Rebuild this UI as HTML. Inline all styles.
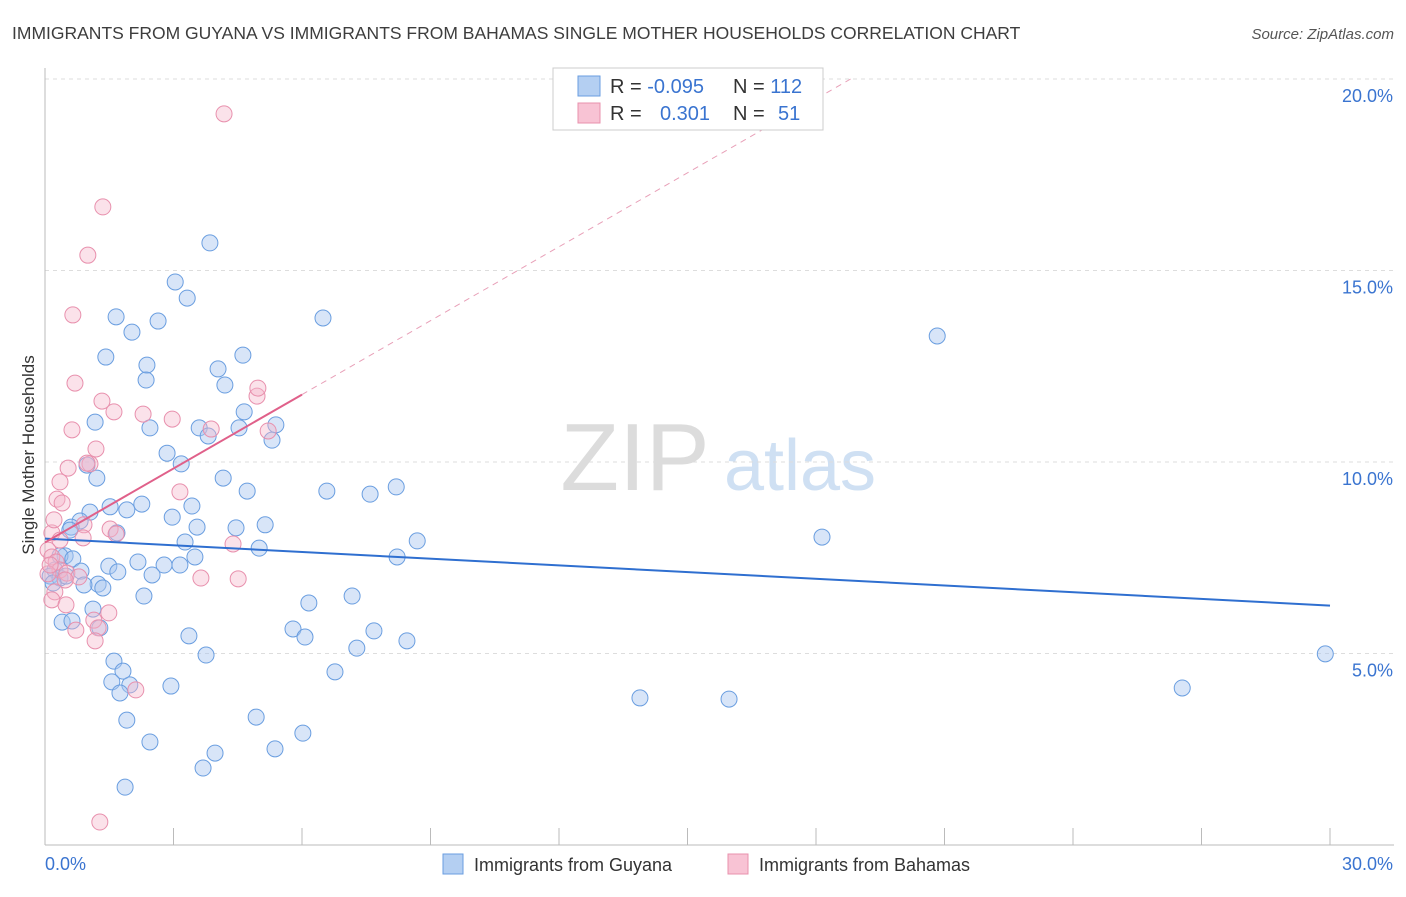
<!DOCTYPE html>
<html><head><meta charset="utf-8"><style>
body{margin:0;background:#fff;font-family:"Liberation Sans",sans-serif}
svg text{font-family:"Liberation Sans",sans-serif}
</style></head><body>
<svg id="chart" width="1406" height="892" xmlns="http://www.w3.org/2000/svg">
<text x="12" y="39" font-size="17.5" fill="#3d3d3d">IMMIGRANTS FROM GUYANA VS IMMIGRANTS FROM BAHAMAS SINGLE MOTHER HOUSEHOLDS CORRELATION CHART</text>
<text x="1394" y="39" font-size="15" fill="#555" text-anchor="end" font-style="italic">Source: ZipAtlas.com</text>
<g>
<text x="635" y="490" font-size="96" fill="#dcdcdc" text-anchor="middle" font-family="Liberation Serif">ZIP</text>
<text x="800" y="490" font-size="72" fill="#cfe0f3" text-anchor="middle">atlas</text>
</g>
<g id="grid"></g>
<g id="axes"></g>
<g id="points"></g>
<g id="lines"></g>
<text transform="translate(34,455) rotate(-90)" font-size="17" fill="#333" text-anchor="middle">Single Mother Households</text>
<g>
<rect x="553" y="68" width="270" height="62" fill="#fff" stroke="#ccc"/>
<rect x="578" y="76" width="22" height="20" fill="#b4cff2" stroke="#6a9ee0"/>
<rect x="578" y="103" width="22" height="20" fill="#f8c3d4" stroke="#e890ad"/>
<text x="610" y="93" font-size="20" fill="#333">R = <tspan fill="#3a74d0">-0.095</tspan><tspan x="733">N = </tspan><tspan fill="#3a74d0">112</tspan></text>
<text x="610" y="120" font-size="20" fill="#333">R = <tspan x="660" fill="#3a74d0">0.301</tspan><tspan x="733">N = </tspan><tspan x="778" fill="#3a74d0">51</tspan></text>
</g>
<g>
<rect x="443" y="854" width="20" height="20" fill="#b4cff2" stroke="#6a9ee0"/>
<text x="474" y="871" font-size="18" fill="#333">Immigrants from Guyana</text>
<rect x="728" y="854" width="20" height="20" fill="#f8c3d4" stroke="#e890ad"/>
<text x="759" y="871" font-size="18" fill="#333">Immigrants from Bahamas</text>
</g>
</svg>
<script>
const guyanaX=[3.85,3.04,3.32,1.66,2.64,6.49,2.03,1.42,2.38,4.62,2.36,4.04,4.20,4.65,1.17,2.45,3.60,4.53,5.39,3.81,5.30,2.85,3.18,0.98,1.21,4.16,4.72,6.58,7.59,8.20,2.26,1.52,1.91,1.05,3.43,2.97,0.82,0.61,0.58,3.55,4.46,5.14,1.68,3.27,5.00,8.69,18.14,0.47,0.35,0.65,3.50,2.17,2.78,3.15,8.22,1.49,1.70,2.50,0.84,0.23,0.12,0.35,0.49,1.24,1.35,0.19,0.91,2.31,7.17,6.16,1.12,0.40,1.28,0.63,5.79,6.07,7.68,3.36,8.45,7.28,3.76,1.61,1.82,6.77,29.89,1.56,1.98,2.94,1.75,13.89,15.97,26.55,4.93,1.91,2.45,6.02,3.97,5.37,3.69,1.87,20.83];
const guyanaY=[15.72,14.70,14.28,13.79,13.68,13.76,13.39,12.74,12.53,12.79,12.14,12.43,12.01,11.31,11.04,10.89,10.89,10.89,10.97,10.68,10.57,10.23,9.95,9.92,9.58,9.58,9.24,9.24,9.16,9.35,8.90,8.83,8.75,8.69,8.85,8.56,8.46,8.30,8.22,8.30,8.28,8.36,8.15,7.91,7.75,7.94,8.04,7.55,7.55,7.47,7.52,7.39,7.31,7.31,7.52,7.28,7.13,7.05,7.15,7.18,7.02,6.97,7.02,6.81,6.71,6.84,6.79,6.50,6.50,6.32,6.16,5.82,5.67,5.85,5.64,5.43,5.59,5.46,5.33,5.14,4.96,4.80,4.54,4.52,4.99,4.26,4.18,4.15,3.97,3.84,3.81,4.10,3.34,3.26,2.69,2.92,2.40,2.51,2.01,1.51,13.29];
const bahamasX=[4.18,1.35,1.00,0.65,0.70,1.33,1.61,2.29,2.97,0.63,1.19,1.05,0.98,0.54,0.35,0.28,0.40,3.15,0.91,1.52,1.66,0.89,0.16,0.35,0.07,0.16,0.26,0.35,0.07,0.51,0.79,0.47,0.23,0.16,0.49,1.49,1.14,1.24,0.72,1.17,3.64,4.51,4.39,4.95,4.97,3.88,5.21,2.12,1.28,0.21,0.12];
const bahamasY=[19.09,16.66,15.40,13.84,12.06,11.59,11.31,11.25,11.12,10.84,10.34,9.95,9.97,9.84,9.48,9.03,8.93,9.22,8.36,8.25,8.12,8.02,8.15,7.96,7.70,7.52,7.39,7.18,7.08,7.10,7.00,6.92,6.61,6.40,6.27,6.06,5.87,5.67,5.61,5.33,6.97,6.95,7.86,11.72,11.93,10.86,10.81,4.05,0.60,8.49,7.31];
const guyanaFit=[8.0,6.25];      // y at x=0 and x=30
const bahamasFit=[7.9,11.76];    // y at x=0 and x=6
const yTicks=[5,10,15,20];
const yTickLabels=["5.0%","10.0%","15.0%","20.0%"];
const xTicks=[0,3,6,9,12,15,18,21,24,27,30];
const NS="http://www.w3.org/2000/svg";
function sx(v){return 45+v*1285/30;}
function sy(v){return 845-v*38.3;}
function mk(t,a,p){const e=document.createElementNS(NS,t);for(const k in a)e.setAttribute(k,a[k]);p.appendChild(e);return e;}
const grid=document.getElementById('grid'),axes=document.getElementById('axes'),pts=document.getElementById('points'),lines=document.getElementById('lines');
yTicks.forEach((v,i)=>{
 const l=mk('line',{x1:45,x2:1394,y1:sy(v),y2:sy(v),stroke:'#ddd','stroke-dasharray':'4,4'},grid);
 
 
 const t=mk('text',{x:1393,y:sy(v)+23,'font-size':18,fill:'#3a74d0','text-anchor':'end'},axes);
 t.textContent=yTickLabels[i];
 
 
});
const ya=mk('line',{x1:45,x2:45,y1:68,y2:845,stroke:'#bbb'},axes);


const xa=mk('line',{x1:45,x2:1394,y1:845,y2:845,stroke:'#bbb'},axes);


xTicks.forEach(v=>{
 const l=mk('line',{x1:sx(v),x2:sx(v),y1:828,y2:845,stroke:'#bbb'},axes);
 
 
});
const x0=mk('text',{x:45,y:870,'font-size':18,fill:'#3a74d0'},axes);x0.textContent='0.0%';


const x1=mk('text',{x:1393,y:870,'font-size':18,fill:'#3a74d0','text-anchor':'end'},axes);x1.textContent='30.0%';


guyanaX.forEach((x,i)=>{
 const c=mk('circle',{cx:sx(x),cy:sy(guyanaY[i]),r:8,fill:'#a8c6ef','fill-opacity':0.45,stroke:'#6a9ee0','stroke-width':1},pts);
 
 
});
bahamasX.forEach((x,i)=>{
 const c=mk('circle',{cx:sx(x),cy:sy(bahamasY[i]),r:8,fill:'#f5b6cb','fill-opacity':0.4,stroke:'#e890ad','stroke-width':1},pts);
 
 
});
const gl=mk('line',{x1:sx(0),y1:sy(guyanaFit[0]),x2:sx(30),y2:sy(guyanaFit[1]),stroke:'#2f6fd0','stroke-width':2},lines);


const slope=(bahamasFit[1]-bahamasFit[0])/6;
const xEnd=(20-bahamasFit[0])/slope;
const bd=mk('line',{x1:sx(6),y1:sy(bahamasFit[1]),x2:sx(xEnd),y2:sy(20),stroke:'#e8a0b8','stroke-width':1,'stroke-dasharray':'6,5'},lines);


const bl=mk('line',{x1:sx(0),y1:sy(bahamasFit[0]),x2:sx(6),y2:sy(bahamasFit[1]),stroke:'#e0608a','stroke-width':2},lines);


</script>
</body></html>
